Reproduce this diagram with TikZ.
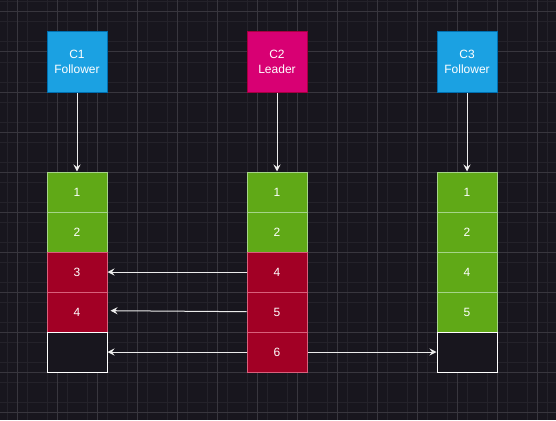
\documentclass[tikz,border=0pt]{standalone}
\usepackage{fontspec}
\setmainfont{Liberation Sans}
\usetikzlibrary{arrows.meta}
\definecolor{bg}{RGB}{24,22,30}
\definecolor{gridminor}{RGB}{36,34,42}
\definecolor{gridmajor}{RGB}{56,54,62}
\definecolor{cblue}{HTML}{1BA1E2}
\definecolor{cbluestroke}{HTML}{006EAF}
\definecolor{cpink}{HTML}{D80073}
\definecolor{cpinkstroke}{HTML}{A50040}
\definecolor{cgreen}{HTML}{60A917}
\definecolor{cgreenstroke}{HTML}{A6D48A}
\definecolor{cred}{HTML}{A20025}
\definecolor{credstroke}{HTML}{D8607C}
\definecolor{arrowcol}{RGB}{236,236,236}
\tikzset{
  box/.style={minimum width=60pt,minimum height=60pt,inner sep=0pt,line width=1pt,
    text=white,font=\fontsize{12pt}{15pt}\selectfont,align=center},
  client/.style={box,fill=cblue,draw=cbluestroke},
  leader/.style={box,fill=cpink,draw=cpinkstroke},
  cell/.style={minimum width=60pt,minimum height=40pt,inner sep=0pt,line width=1pt,
    text=white,font=\fontsize{12pt}{15pt}\selectfont},
  okcell/.style={cell,fill=cgreen,draw=cgreenstroke},
  badcell/.style={cell,fill=cred,draw=credstroke},
  emptycell/.style={cell,fill=bg,draw=white},
  arr/.style={draw=arrowcol,line width=1pt,-{Stealth[length=7pt,width=7pt,inset=2.5pt]}}
}
\begin{document}
\begin{tikzpicture}[x=1pt,y=-1pt]
\useasboundingbox (0,0) rectangle (556,420);
\fill[bg] (0,0) rectangle (556,420);
% grid
\foreach \x in {7,27,...,556} \draw[gridminor,line width=1pt] (\x,0) -- (\x,420);
\foreach \y in {2,22,...,420} \draw[gridminor,line width=1pt] (0,\y) -- (556,\y);
\foreach \x in {17,57,...,556} \draw[gridmajor,line width=1pt] (\x,0) -- (\x,420);
\foreach \y in {12,52,...,420} \draw[gridmajor,line width=1pt] (0,\y) -- (556,\y);
% clients
\node[client] (c1) at (77,62) {C1\\Follower};
\node[leader] (c2) at (277,62) {C2\\Leader};
\node[client] (c3) at (467,62) {C3\\Follower};
% C1 log
\node[okcell] (a1) at (77,192) {1};
\node[okcell] (a2) at (77,232) {2};
\node[badcell] (a3) at (77,272) {3};
\node[badcell] (a4) at (77,312) {4};
\node[emptycell] (a5) at (77,352) {};
% C2 log
\node[okcell] (b1) at (277,192) {1};
\node[okcell] (b2) at (277,232) {2};
\node[badcell] (b3) at (277,272) {4};
\node[badcell] (b4) at (277,312) {5};
\node[badcell] (b5) at (277,352) {6};
% C3 log
\node[okcell] (d1) at (467,192) {1};
\node[okcell] (d2) at (467,232) {2};
\node[okcell] (d3) at (467,272) {4};
\node[okcell] (d4) at (467,312) {5};
\node[emptycell] (d5) at (467,352) {};
% arrows
\draw[arr] (c1.south) -- (a1.north);
\draw[arr] (c2.south) -- (b1.north);
\draw[arr] (c3.south) -- (d1.north);
\draw[arr] (b3.west) -- (a3.east);
\coordinate (a4t) at ([xshift=3pt,yshift=1.3pt]a4.east);
\draw[arr] ([yshift=0.3pt]b4.west) -- (a4t);
\draw[arr] (b5.west) -- (a5.east);
\draw[arr] (b5.east) -- (d5.west);
\end{tikzpicture}
\end{document}
